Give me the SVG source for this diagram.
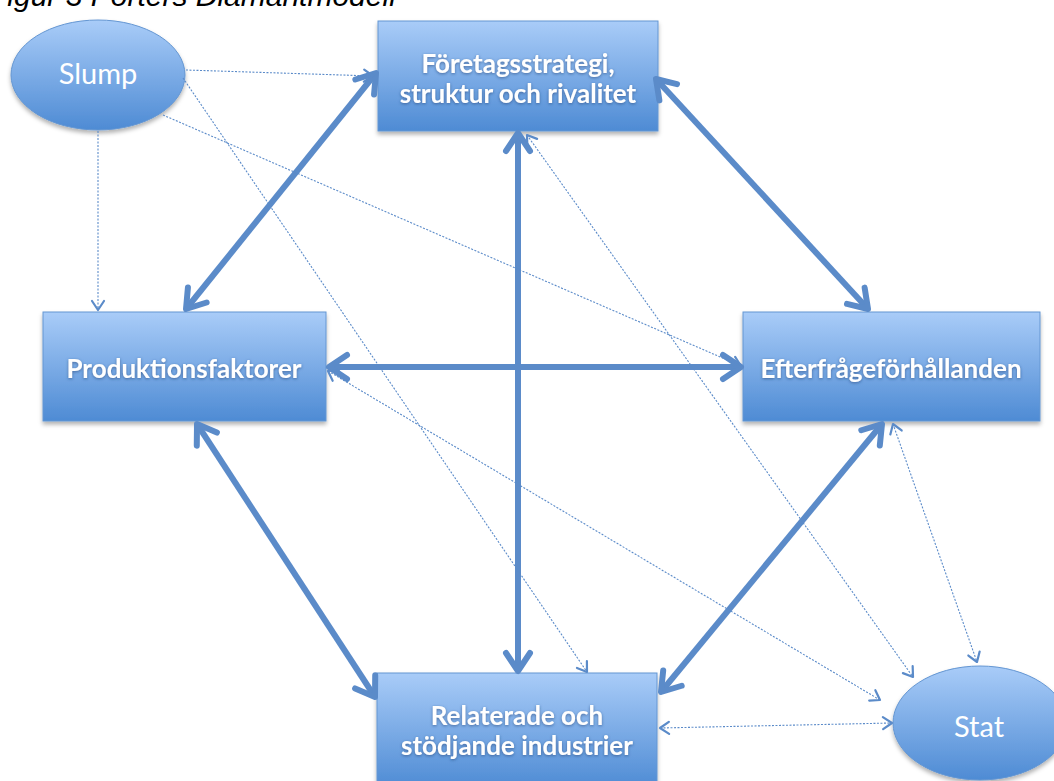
<svg xmlns="http://www.w3.org/2000/svg" width="1054" height="781" viewBox="0 0 1054 781">
<style>
.box{fill:url(#g);stroke:#6496d2;stroke-width:1;filter:url(#sh)}
.lbl{font-family:Lato,"Open Sans","Liberation Sans",sans-serif;font-weight:700;font-size:26px;fill:#fff;text-anchor:middle;filter:url(#ts)}
.ell{font-family:Lato,"Open Sans","Liberation Sans",sans-serif;font-size:29px;fill:#fff;text-anchor:middle}
.thick{stroke:#5b8bc9;stroke-width:6;fill:none;marker-start:url(#ah);marker-end:url(#ah)}
.thin{stroke:#5b8bc9;stroke-width:1.1;fill:none;stroke-dasharray:2 1.5}
.e{marker-end:url(#sa)}
.b{marker-start:url(#sa);marker-end:url(#sa)}
.title{font-family:"Liberation Sans",Arial,sans-serif;font-style:italic;font-size:30px;fill:#000}
</style>
<defs>
<linearGradient id="g" x1="0" y1="0" x2="0" y2="1">
<stop offset="0" stop-color="#a9ccf8"/>
<stop offset="1" stop-color="#4e8bd4"/>
</linearGradient>
<filter id="sh" x="-10%" y="-10%" width="120%" height="130%">
<feDropShadow dx="0" dy="3" stdDeviation="2" flood-color="#000" flood-opacity="0.3"/>
</filter>
<filter id="ts" x="-10%" y="-30%" width="120%" height="160%">
<feDropShadow dx="0" dy="1" stdDeviation="1.5" flood-color="#1a3d6e" flood-opacity="0.6"/>
</filter>
<marker id="ah" viewBox="-23 -16 27 32" refX="0" refY="0" markerWidth="27" markerHeight="32" markerUnits="userSpaceOnUse" orient="auto-start-reverse">
<path d="M-18,-12 L0,0 L-18,12" fill="none" stroke="#5b8bc9" stroke-width="6" stroke-linecap="round" stroke-linejoin="round"/>
</marker>
<marker id="sa" viewBox="-12 -9 14 18" refX="0" refY="0" markerWidth="14" markerHeight="18" markerUnits="userSpaceOnUse" orient="auto-start-reverse">
<path d="M-9,-6 L0,0 L-9,6" fill="none" stroke="#5b8bc9" stroke-width="2.2" stroke-linecap="round" stroke-linejoin="round"/>
</marker>
</defs>
<rect width="1054" height="781" fill="#fff"/>
<text class="title" x="-11" y="6">Figur 3 Porters Diamantmodell</text>
<g id="slump">
<ellipse cx="98" cy="75" rx="87" ry="55" class="box"/>
<text class="ell" x="98" y="84">Slump</text>
</g>
<g id="foretagsstrategi">
<rect x="378" y="21" width="280" height="110" class="box"/>
<text class="lbl" x="518" y="73">Företagsstrategi,</text>
<text class="lbl" x="518" y="103">struktur och rivalitet</text>
</g>
<g id="produktionsfaktorer">
<rect x="43" y="312" width="283" height="109" class="box"/>
<text class="lbl" x="184" y="378">Produktionsfaktorer</text>
</g>
<g id="efterfrage">
<rect x="743" y="312" width="297" height="109" class="box"/>
<text class="lbl" x="891" y="378">Efterfrågeförhållanden</text>
</g>
<g id="relaterade">
<rect x="377" y="673" width="280" height="115" class="box"/>
<text class="lbl" x="517" y="725">Relaterade och</text>
<text class="lbl" x="517" y="755">stödjande industrier</text>
</g>
<g id="stat">
<ellipse cx="980" cy="723" rx="87" ry="57" class="box"/>
<text class="ell" x="979" y="737">Stat</text>
</g>
<g id="connectors">
<line class="thick" x1="186" y1="309" x2="376" y2="73"/>
<line class="thick" x1="656" y1="79" x2="868" y2="309"/>
<line class="thick" x1="518" y1="133" x2="518" y2="671"/>
<line class="thick" x1="329" y1="367" x2="741" y2="367"/>
<line class="thick" x1="197" y1="424" x2="375" y2="697"/>
<line class="thick" x1="882" y1="424" x2="661" y2="692"/>
<line class="thin e" x1="186" y1="70" x2="373" y2="76"/>
<line class="thin e" x1="183" y1="78" x2="587" y2="672"/>
<line class="thin e" x1="163" y1="115" x2="741" y2="366"/>
<line class="thin e" x1="98" y1="131" x2="98" y2="310"/>
<line class="thin b" x1="527" y1="135" x2="913" y2="677"/>
<line class="thin b" x1="893" y1="424" x2="977" y2="662"/>
<line class="thin b" x1="328" y1="371" x2="880" y2="700"/>
<line class="thin b" x1="660" y1="728" x2="892" y2="723"/>
</g>
</svg>
